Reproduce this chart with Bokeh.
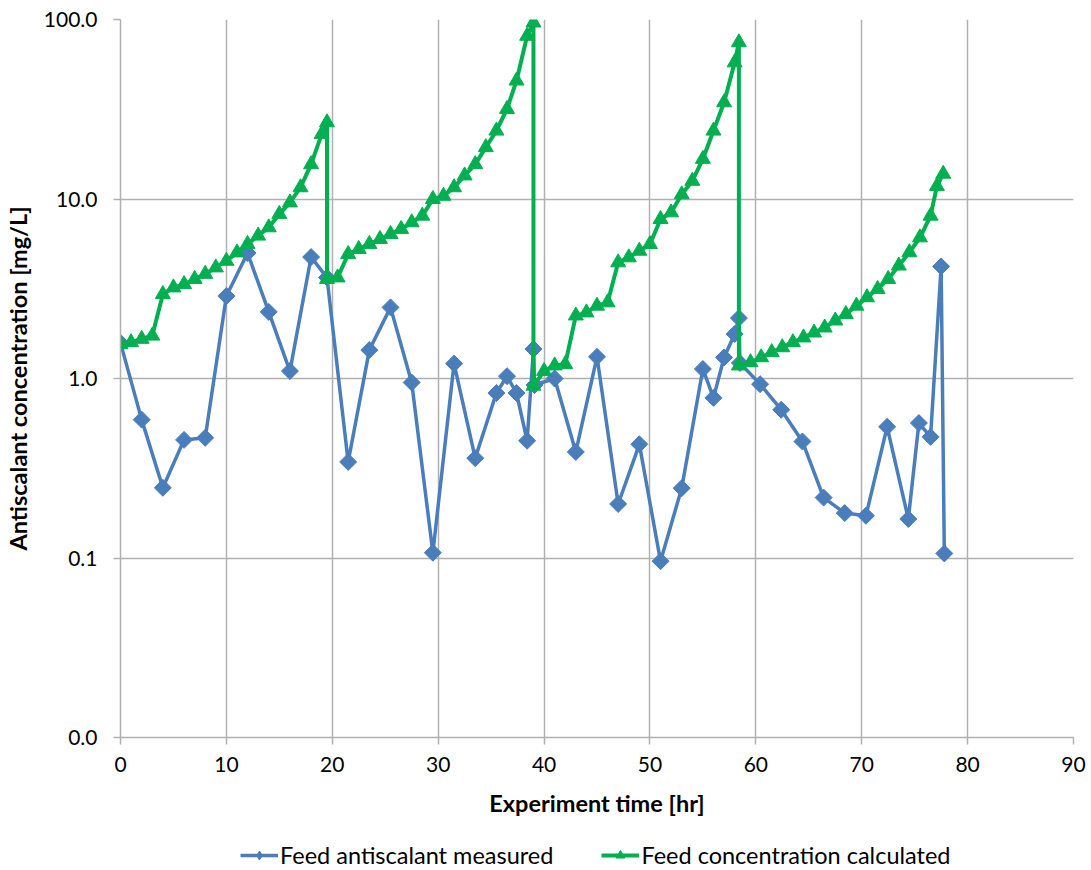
import math
from bokeh.plotting import figure
from bokeh.layouts import column
from bokeh.models import FixedTicker, PrintfTickFormatter, Range1d, Legend, LegendItem
from bokeh.embed import file_html
from bokeh.resources import INLINE

# Feed antiscalant measured
measured_t = [0, 2, 4, 6, 8, 10, 12, 14, 16, 18, 19.5, 21.5, 23.5, 25.5, 27.5,
              29.5, 31.5, 33.5, 35.5, 36.5, 37.4, 38.4, 39, 39.1, 41, 43, 45, 47,
              49, 51, 53, 55, 56, 57, 58, 58.4, 58.5, 60.4, 62.4, 64.4, 66.4,
              68.4, 70.4, 72.4, 74.4, 75.4, 76.5, 77.5, 77.8]
measured_c = [1.58, 0.59, 0.246, 0.455, 0.467, 2.88, 5.0, 2.35, 1.1, 4.75, 3.65,
              0.343, 1.44, 2.49, 0.95, 0.107, 1.21, 0.36, 0.83, 1.03, 0.83, 0.45,
              1.46, 0.92, 1.0, 0.39, 1.32, 0.2, 0.43, 0.096, 0.245, 1.13, 0.78,
              1.31, 1.77, 2.17, 1.22, 0.93, 0.67, 0.446, 0.217, 0.178, 0.172,
              0.538, 0.165, 0.565, 0.473, 4.21, 0.106]

# Feed concentration calculated
calc_t = [0, 1, 2, 3, 4, 5, 6, 7, 8, 9, 10, 11, 12, 13, 14, 15, 16, 17, 18, 19,
          19.5, 19.5, 20.5, 21.5, 22.5, 23.5, 24.5, 25.5, 26.5, 27.5, 28.5, 29.5,
          30.5, 31.5, 32.5, 33.5, 34.5, 35.5, 36.5, 37.4, 38.4, 39, 39, 40, 41,
          42, 43, 44, 45, 46, 47, 48, 49, 50, 51, 52, 53, 54, 55, 56, 57, 58,
          58.4, 58.4, 59.5, 60.5, 61.5, 62.5, 63.5, 64.5, 65.5, 66.5, 67.5, 68.5,
          69.5, 70.5, 71.5, 72.5, 73.5, 74.5, 75.5, 76.5, 77.1, 77.7]
calc_c = [1.55, 1.59, 1.66, 1.73, 2.95, 3.21, 3.35, 3.58, 3.82, 4.15, 4.52, 5.03,
          5.61, 6.24, 6.94, 8.24, 9.55, 11.6, 15.6, 23.0, 26.7,
          3.58, 3.65, 4.93, 5.26, 5.61, 5.98, 6.37, 6.80, 7.4, 8.06, 9.98, 10.4,
          11.6, 13.5, 15.6, 19.4, 24.0, 31.7, 45.6, 81, 96,
          0.91, 1.10, 1.18, 1.20, 2.24, 2.33, 2.54, 2.65, 4.43, 4.72, 5.14, 5.6,
          7.72, 8.41, 10.6, 12.6, 16.7, 24.0, 34.5, 57.6, 74.5,
          1.18, 1.23, 1.31, 1.40, 1.49, 1.59, 1.69, 1.80, 1.92, 2.10, 2.28, 2.54,
          2.83, 3.15, 3.58, 4.25, 5.04, 6.1, 8.06, 11.8, 13.8]

series_names = ["Feed antiscalant measured", "Feed concentration calculated"]
x_ticks = [0, 10, 20, 30, 40, 50, 60, 70, 80, 90]
y_ticks = [0.01, 0.1, 1, 10, 100]

FONT = "Lato"
GRID = "#b0b0b0"
BLUE = "#4a7ebb"
GREEN = "#00b050"

p = figure(frame_width=953, frame_height=718, y_axis_type="log",
           x_range=Range1d(0, 90), y_range=Range1d(0.01, 100),
           output_backend="svg", toolbar_location=None,
           min_border_left=120, min_border_right=18, min_border_top=19,
           min_border_bottom=86)
p.outline_line_color = None
p.background_fill_color = "white"

p.xaxis.ticker = FixedTicker(ticks=x_ticks)
p.yaxis.ticker = FixedTicker(ticks=y_ticks, minor_ticks=[])
p.yaxis.formatter = PrintfTickFormatter(format="%.1f")

for ax in (p.xaxis, p.yaxis):
    ax.axis_line_color = GRID
    ax.axis_line_width = 1.5
    ax.major_tick_line_color = GRID
    ax.major_tick_line_width = 1.5
    ax.major_tick_out = 7
    ax.major_tick_in = 0
    ax.minor_tick_line_color = None
    ax.major_label_text_font = FONT
    ax.major_label_text_font_size = "21px"
    ax.major_label_text_color = "black"
    ax.axis_label_text_font = FONT
    ax.axis_label_text_font_size = "23.5px"
    ax.axis_label_text_font_style = "bold"
    ax.axis_label_text_color = "black"

p.xaxis.axis_label = "Experiment time [hr]"
p.yaxis.axis_label = "Antiscalant concentration [mg/L]"
p.xaxis.major_label_standoff = 12
p.yaxis.major_label_standoff = 16
p.xaxis.axis_label_standoff = 14
p.yaxis.axis_label_standoff = 9

p.xgrid.grid_line_color = GRID
p.ygrid.grid_line_color = GRID
p.xgrid.grid_line_width = 1.5
p.ygrid.grid_line_width = 1.5
p.ygrid.minor_grid_line_color = None

p.line(measured_t, measured_c, line_color=BLUE, line_width=3.5)
p.scatter(measured_t, measured_c, marker="square", size=12, angle=math.pi / 4,
          fill_color=BLUE, line_color=BLUE)
p.line(calc_t, calc_c, line_color=GREEN, line_width=4)
p.scatter(calc_t, calc_c, marker="triangle", size=15,
          fill_color=GREEN, line_color=GREEN)

# Legend strip below the chart (separate panel so it is not clipped);
# its key renderers hold one point outside the visible range.
lg = figure(width=1091, height=47, x_range=Range1d(0, 1), y_range=Range1d(0, 1),
            output_backend="svg", toolbar_location=None,
            x_axis_location=None, y_axis_location=None, min_border=0)
lg.outline_line_color = None
lg.xgrid.visible = False
lg.ygrid.visible = False
k1 = lg.line(x=[-5, -4], y=[-5, -4], line_color=BLUE, line_width=3.5)
m1 = lg.scatter(x=[-5], y=[-5], marker="diamond", size=18, fill_color=BLUE, line_color=BLUE)
k2 = lg.line(x=[-5, -4], y=[-5, -4], line_color=GREEN, line_width=4)
m2 = lg.scatter(x=[-5], y=[-5], marker="triangle", size=15, fill_color=GREEN, line_color=GREEN)

legend = Legend(items=[
    LegendItem(label=series_names[0], renderers=[k1, m1]),
    LegendItem(label=series_names[1], renderers=[k2, m2]),
], orientation="horizontal", location=(120, 1))
legend.label_text_font = FONT
legend.label_text_font_size = "23.5px"
legend.label_text_color = "black"
legend.border_line_color = None
legend.background_fill_alpha = 0
legend.glyph_width = 38
legend.glyph_height = 22
legend.label_standoff = 2
legend.spacing = 48
legend.margin = 0
legend.padding = 0
lg.add_layout(legend, "center")

layout = column(p, lg, spacing=0)
open("out.html", "w").write(file_html(layout, INLINE))
